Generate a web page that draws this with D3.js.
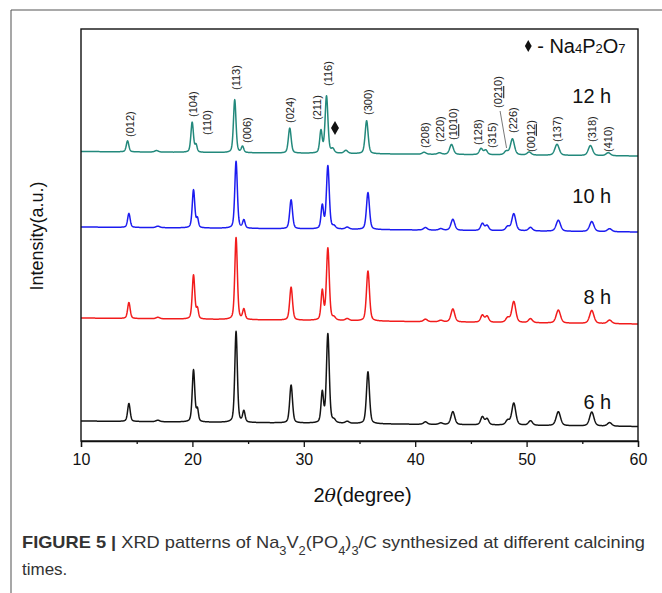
<!DOCTYPE html>
<html lang="en">
<head>
<meta charset="UTF-8">
<title>XRD patterns</title>
<script src="https://d3js.org/d3.v7.min.js"></script>
<style>
 body { margin: 0; background: #fff; font-family: "Liberation Sans", Arial, sans-serif; }
 .trace { fill: none; stroke-width: 1.5px; stroke-linejoin: round; }
 .hkl { font-size: 11px; }
 .axis text { font-size: 16px; font-family: "Liberation Sans", Arial, sans-serif; fill: #111; }
 .axis path, .axis line { stroke: #111; stroke-width: 1.3px; }
</style>
</head>
<body>
<div id="chart"></div>
<script>
// 2theta range and axis ticks
const xDomain = [10, 60];
const majorTicks = [10, 20, 30, 40, 50, 60];
const minorTicks = [15, 25, 35, 45, 55];

// peak positions (2theta, degree) and widths, shared by all patterns
const peakPos   = [14.3, 16.9, 20.1, 20.45, 23.92, 24.62, 28.86, 31.66, 32.16, 32.72, 33.9, 35.76, 40.92, 42.3, 43.38, 46.03, 46.45, 48.3, 48.85, 50.35, 52.85, 55.85, 57.45];
const peakWidth = [0.27, 0.4, 0.27, 0.22, 0.27, 0.26, 0.3, 0.26, 0.3, 0.32, 0.4, 0.32, 0.4, 0.4, 0.4, 0.36, 0.36, 0.4, 0.42, 0.42, 0.46, 0.46, 0.46];

// patterns, bottom to top
const series   = ["6 h", "8 h", "10 h", "12 h"];
const colors   = ["#141414", "#f21c1c", "#1c1cf0", "#23897c"];
const bgStart  = [20, 123, 214, 289.5];   // background at 10 deg (a.u.)
const bgEnd    = [14.5, 117, 209, 285];   // background at 60 deg (a.u.)
const shift    = [0, 0, 0, -0.12];
const h6  = [18, 1.5, 52, 12, 91, 11, 38, 30, 89, 2.5, 2, 52, 2.5, 1.5, 13, 8, 6, 4.5, 22, 4.5, 14, 14, 3.5];
const h8  = [16, 1.5, 44, 10, 82, 10, 33, 29, 72, 2.5, 2, 50, 2.5, 1.5, 13, 7, 6, 4.5, 21, 4, 13, 13, 3.5];
const h10 = [14, 1.5, 38, 9, 67, 8, 29, 23, 63, 2.5, 2, 37, 2.5, 1.5, 11, 7, 5, 4, 17, 3.5, 11, 10, 3];
const h12 = [11, 1.5, 30, 7, 53, 6, 25, 22, 57, 4, 3, 33, 2, 1.5, 10, 6, 4.5, 3.5, 16, 3, 11, 10, 3];
const heights = [h6, h8, h10, h12];
const labelY  = [32, 137, 238, 338];

// reflection labels of the 12 h pattern
const hkl    = ["(012)", "(104)", "(110)", "(113)", "(006)", "(024)", "(211)", "(116)", "(300)", "(208)", "(220)", "(1010)", "(128)", "(315)", "(0210)", "(226)", "(0012)", "(137)", "(318)", "(410)"];
const hklX   = [14.4, 20.08, 21.28, 23.91, 24.87, 28.76, 31.16, 32.2, 35.79, 40.88, 42.23, 43.42, 45.66, 46.87, 47.46, 48.81, 50.39, 52.7, 55.84, 57.33];
const hklY   = [304, 324, 306, 351, 298, 318, 321, 355, 326, 293, 299, 301, 296, 293, 333, 308, 289, 299, 299, 289];
const hklUnder = {"(1010)": [1, 3], "(0210)": [2, 4], "(0012)": [3, 5]};

const width = 662, height = 593;
const margin = {left: 81, right: 24, top: 29, bottom: 152};

const svg = d3.select("#chart").append("svg")
  .attr("width", width)
  .attr("height", height);

const x = d3.scaleLinear().domain(xDomain).range([margin.left, width - margin.right]);
const y = d3.scaleLinear().domain([0, 412]).range([height - margin.bottom, margin.top]);

// outer figure border
svg.append("line").attr("x1", 11).attr("x2", 11).attr("y1", 10).attr("y2", height)
  .attr("stroke", "#8a8a8a").attr("stroke-width", 1.5);
svg.append("line").attr("x1", 11).attr("x2", width).attr("y1", 10).attr("y2", 10)
  .attr("stroke", "#555").attr("stroke-width", 1.2);

function profile(t) {
  // pseudo-voigt, unit height
  const g = Math.exp(-4 * Math.LN2 * t * t);
  const l = 1 / (1 + 4 * t * t);
  return 0.6 * g + 0.4 * l;
}

const xs = d3.range(xDomain[0], xDomain[1] + 0.001, 0.02);

series.forEach((name, si) => {
  const pts = xs.map(tt => {
    let v = bgStart[si] + (bgEnd[si] - bgStart[si]) * (tt - xDomain[0]) / (xDomain[1] - xDomain[0]);
    heights[si].forEach((hh, pi) => {
      v += hh * profile((tt - peakPos[pi] - shift[si]) / peakWidth[pi]);
    });
    return [tt, v];
  });
  svg.append("path")
    .attr("class", "trace")
    .attr("stroke", colors[si])
    .attr("d", d3.line().x(d => x(d[0])).y(d => y(d[1]))(pts));

  svg.append("text")
    .attr("x", x(57.6)).attr("y", y(labelY[si]))
    .attr("text-anchor", "end")
    .attr("font-size", 20)
    .attr("fill", "#111")
    .text(name);
});

// hkl labels
hkl.forEach((lab, i) => {
  const t = svg.append("text")
    .attr("class", "hkl")
    .attr("fill", "#222")
    .attr("transform", `translate(${x(hklX[i])},${y(hklY[i])}) rotate(-90)`)
    .attr("dy", "0.35em");
  const u = hklUnder[lab];
  if (u) {
    t.append("tspan").text(lab.slice(0, u[0]));
    t.append("tspan").attr("text-decoration", "underline").text(lab.slice(u[0], u[1]));
    t.append("tspan").text(lab.slice(u[1]));
  } else {
    t.text(lab);
  }
});

// leader line for (0210)
svg.append("line")
  .attr("x1", x(47.62)).attr("y1", y(330))
  .attr("x2", x(48.2)).attr("y2", y(293))
  .attr("stroke", "#555").attr("stroke-width", 0.8);

// Na4P2O7 marker on 12 h pattern
svg.append("path")
  .attr("d", d3.symbol().type(d3.symbolDiamond).size(55))
  .attr("transform", `translate(${x(32.8)},${y(313)})`)
  .attr("fill", "#111");

// legend for the marker
svg.append("path")
  .attr("d", d3.symbol().type(d3.symbolDiamond).size(40))
  .attr("transform", `translate(${x(50.15)},${y(395)})`)
  .attr("fill", "#111");
const leg = svg.append("text")
  .attr("x", x(50.95)).attr("y", y(388))
  .attr("font-size", 20).attr("fill", "#111");
leg.append("tspan").text("- Na");
leg.append("tspan").attr("font-size", 13).text("4");
leg.append("tspan").text("P");
leg.append("tspan").attr("font-size", 13).text("2");
leg.append("tspan").text("O");
leg.append("tspan").attr("font-size", 13).text("7");

// x axis
const axisY = height - margin.bottom;
svg.append("g")
  .attr("class", "axis")
  .attr("transform", `translate(0,${axisY})`)
  .call(d3.axisBottom(x).tickValues(majorTicks).tickSize(6).tickPadding(7).tickFormat(d3.format("d")));
svg.append("g")
  .attr("class", "axis")
  .attr("transform", `translate(0,${axisY})`)
  .call(d3.axisBottom(x).tickValues(minorTicks).tickSize(3).tickFormat(""))
  .select(".domain").remove();

// frame
svg.append("rect")
  .attr("x", margin.left).attr("y", margin.top)
  .attr("width", width - margin.left - margin.right)
  .attr("height", height - margin.top - margin.bottom)
  .attr("fill", "none").attr("stroke", "#111").attr("stroke-width", 1.4);

// axis titles
const xt = svg.append("text")
  .attr("x", (margin.left + width - margin.right) / 2 + 3).attr("y", 502)
  .attr("text-anchor", "middle").attr("font-size", 20).attr("fill", "#111");
xt.append("tspan").text("2");
xt.append("tspan").attr("font-style", "italic").attr("font-family", "'DejaVu Serif', serif").attr("font-size", 19).text("θ");
xt.append("tspan").text("(degree)");

svg.append("text")
  .attr("transform", "translate(43,236) rotate(-90)")
  .attr("text-anchor", "middle").attr("font-size", 18).attr("fill", "#111")
  .text("Intensity(a.u.)");

// caption
const cap = svg.append("text")
  .attr("x", 22).attr("y", 548)
  .attr("font-size", 17).attr("fill", "#333");
cap.append("tspan").attr("font-weight", "bold").text("FIGURE 5 | ");
cap.append("tspan").text("XRD patterns of Na");
cap.append("tspan").attr("baseline-shift", "sub").attr("font-size", 12).text("3");
cap.append("tspan").text("V");
cap.append("tspan").attr("baseline-shift", "sub").attr("font-size", 12).text("2");
cap.append("tspan").text("(PO");
cap.append("tspan").attr("baseline-shift", "sub").attr("font-size", 12).text("4");
cap.append("tspan").text(")");
cap.append("tspan").attr("baseline-shift", "sub").attr("font-size", 12).text("3");
cap.append("tspan").text("/C synthesized at different calcining");
cap.attr("textLength", 623).attr("lengthAdjust", "spacingAndGlyphs");

svg.append("text")
  .attr("x", 22).attr("y", 575)
  .attr("font-size", 17).attr("fill", "#333")
  .text("times.");
</script>
</body>
</html>
